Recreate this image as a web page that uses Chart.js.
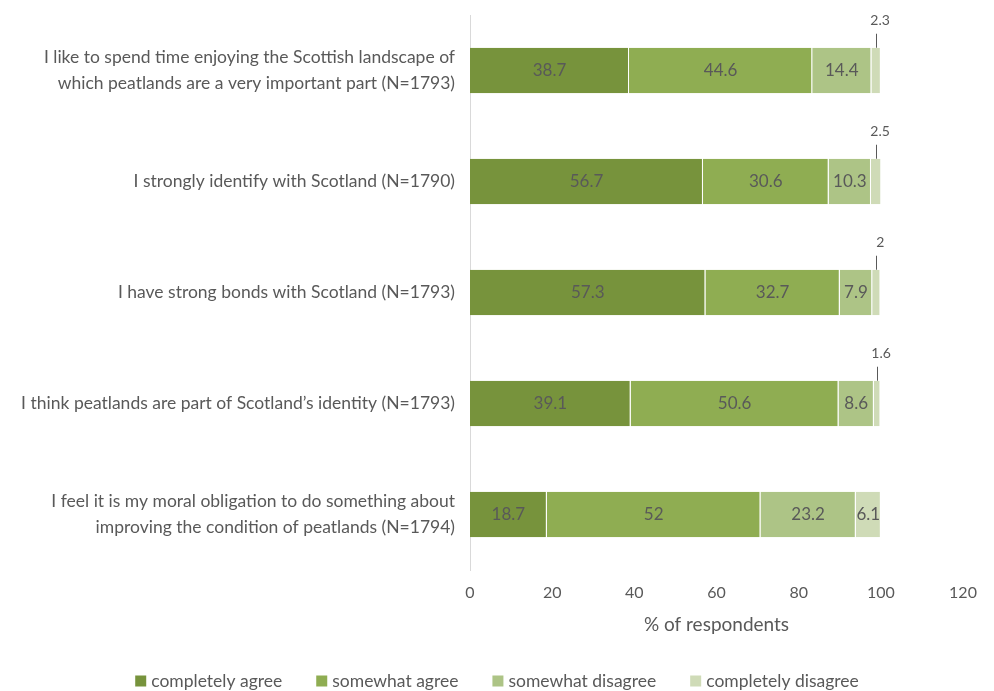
<!DOCTYPE html>
<html>
<head>
<meta charset="utf-8">
<script src="https://cdn.jsdelivr.net/npm/chart.js@4"></script>
<style>
  html, body { margin: 0; padding: 0; background: #fff; }
  #wrap { width: 994px; height: 691px; }
</style>
</head>
<body>
<div id="wrap"><canvas id="chart"></canvas></div>
<script>
const statements = [
  ['I like to spend time enjoying the Scottish landscape of', 'which peatlands are a very important part (N=1793)'],
  'I strongly identify with Scotland (N=1790)',
  'I have strong bonds with Scotland (N=1793)',
  'I think peatlands are part of Scotland\u2019s identity (N=1793)',
  ['I feel it is my moral obligation to do something about', 'improving the condition of peatlands (N=1794)']
];
const seriesNames = ['completely agree', 'somewhat agree', 'somewhat disagree', 'completely disagree'];
const completelyAgree = [38.7, 56.7, 57.3, 39.1, 18.7];
const somewhatAgree = [44.6, 30.6, 32.7, 50.6, 52];
const somewhatDisagree = [14.4, 10.3, 7.9, 8.6, 23.2];
const completelyDisagree = [2.3, 2.5, 2, 1.6, 6.1];
const xTicks = [0, 20, 40, 60, 80, 100, 120];

const colours = ['#77933c', '#8fad52', '#adc486', '#cfdbb7'];
const textColour = '#595959';
const FONT = 'Lato, "Open Sans", sans-serif';

// values inside the bars, small ones get a leader line above
const labelPlugin = {
  id: 'barLabels',
  afterDatasetsDraw(chart) {
    const ctx = chart.ctx;
    ctx.save();
    ctx.fillStyle = textColour;
    ctx.textAlign = 'center';
    ctx.textBaseline = 'middle';
    chart.data.datasets.forEach((ds, i) => {
      chart.getDatasetMeta(i).data.forEach((bar, j) => {
        const v = ds.data[j];
        const cx = (bar.x + bar.base) / 2;
        if (v < 3) {
          const top = bar.y - bar.height / 2;
          ctx.strokeStyle = textColour;
          ctx.lineWidth = 1;
          ctx.beginPath();
          ctx.moveTo(Math.round(cx) + 0.5, top);
          ctx.lineTo(Math.round(cx) + 0.5, top - 14);
          ctx.stroke();
          ctx.font = '14px ' + FONT;
          ctx.fillText(String(v), cx + 4, top - 27);
        } else {
          ctx.font = '17px ' + FONT;
          ctx.fillText(String(v), cx, bar.y);
        }
      });
    });
    ctx.restore();
  }
};

// legend row drawn by hand so spacing matches the original
const legendPlugin = {
  id: 'rowLegend',
  afterDraw(chart) {
    const ctx = chart.ctx;
    const box = 11, gapText = 5, gapItem = 34, y = 681;
    ctx.save();
    ctx.font = '17.5px ' + FONT;
    const widths = seriesNames.map(n => ctx.measureText(n).width);
    const total = widths.reduce((a, w) => a + box + gapText + w, 0) + gapItem * (seriesNames.length - 1);
    let x = (chart.width - total) / 2;
    ctx.textBaseline = 'middle';
    ctx.textAlign = 'left';
    seriesNames.forEach((n, i) => {
      ctx.fillStyle = colours[i];
      ctx.fillRect(x, y - box / 2, box, box);
      ctx.fillStyle = textColour;
      ctx.fillText(n, x + box + gapText, y);
      x += box + gapText + widths[i] + gapItem;
    });
    ctx.restore();
  }
};

const values = [completelyAgree, somewhatAgree, somewhatDisagree, completelyDisagree];

new Chart(document.getElementById('chart'), {
  type: 'bar',
  data: {
    labels: statements,
    datasets: seriesNames.map((name, i) => ({
      label: name,
      data: values[i],
      backgroundColor: colours[i],
      borderColor: '#ffffff',
      borderWidth: { left: 0, right: 1, top: 0, bottom: 0 },
      borderSkipped: false,
      barPercentage: 0.41,
      categoryPercentage: 1
    }))
  },
  options: {
    indexAxis: 'y',
    responsive: true,
    maintainAspectRatio: false,
    animation: false,
    layout: { padding: { top: 15, right: 31, left: 0, bottom: 0 } },
    plugins: {
      tooltip: { enabled: false },
      legend: { display: false }
    },
    scales: {
      x: {
        stacked: true,
        min: 0,
        max: 120,
        afterBuildTicks: s => { s.ticks = xTicks.map(v => ({ value: v })); },
        grid: { display: false, drawTicks: false },
        border: { display: false },
        ticks: { color: textColour, font: { family: FONT, size: 16 }, padding: 13 },
        title: {
          display: true,
          text: '% of respondents',
          color: textColour,
          font: { family: FONT, size: 19 },
          padding: { top: 0, bottom: 55 }
        },
        afterFit: s => { s.height = 121; }
      },
      y: {
        stacked: true,
        grid: { display: false, drawTicks: false },
        border: { display: true, color: '#d9d9d9' },
        ticks: {
          color: textColour,
          font: { family: FONT, size: 17.5, lineHeight: 1.5 },
          padding: 15
        },
        afterFit: s => { s.width = 470; s.paddingTop = 0; s.paddingBottom = 0; }
      }
    }
  },
  plugins: [labelPlugin, legendPlugin]
});
</script>
</body>
</html>
